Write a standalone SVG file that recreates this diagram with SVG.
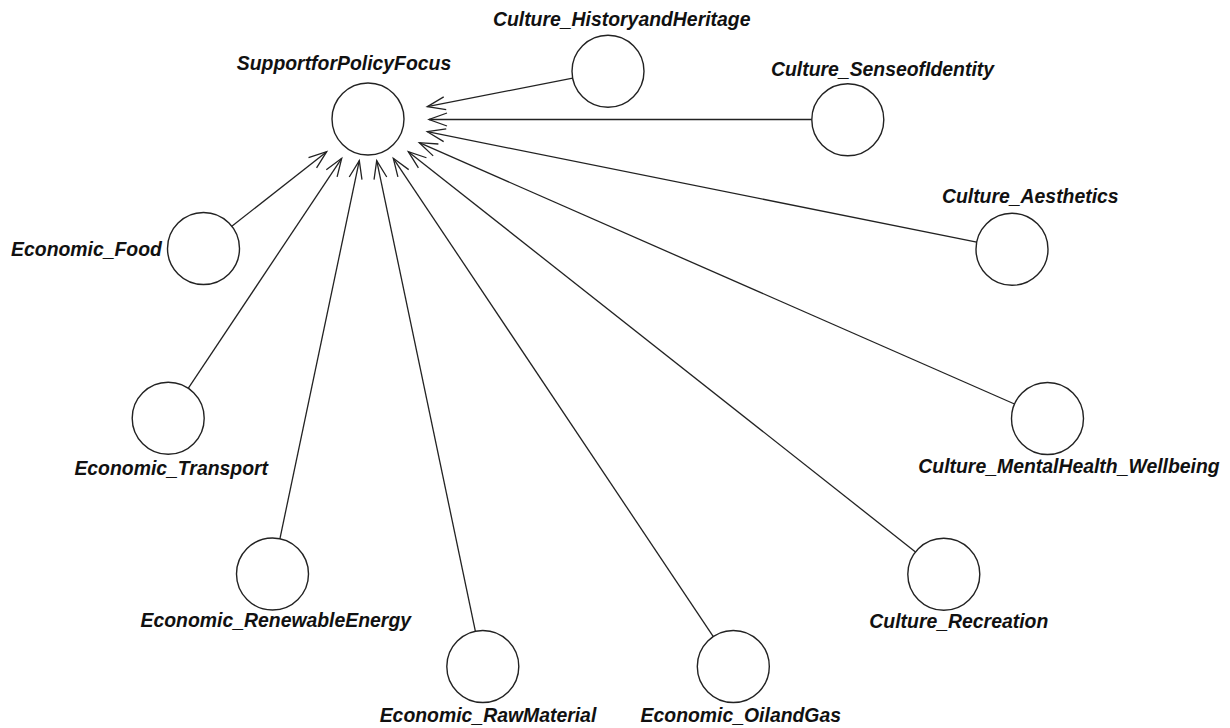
<svg xmlns="http://www.w3.org/2000/svg" width="1230" height="728" viewBox="0 0 1230 728">
<style>
.node circle{fill:#fff;stroke:#222;stroke-width:1.4}
.node text{font-family:"Liberation Sans",Arial,sans-serif;font-weight:bold;font-style:italic;font-size:19.4px;fill:#111;text-anchor:middle}
.edge{stroke:#222;stroke-width:1.3;fill:none;marker-end:url(#arr)}
</style>
<defs>
<marker id="arr" markerUnits="userSpaceOnUse" markerWidth="24" markerHeight="20" refX="0" refY="0" viewBox="-20 -10 24 20" orient="auto" overflow="visible">
<path d="M-18,-6.5 L0,0 L-18,6.5" fill="none" stroke="#222" stroke-width="1.3"/>
</marker>
</defs>
<rect width="1230" height="728" fill="#fff"/>
<g id="connectors">
<line class="edge" x1="572.7" y1="78.1" x2="427.3" y2="106.7"/>
<line class="edge" x1="811.8" y1="119.5" x2="429" y2="119.5"/>
<line class="edge" x1="976.7" y1="242.2" x2="427.3" y2="131.7"/>
<line class="edge" x1="1014.5" y1="404" x2="419.3" y2="142.7"/>
<line class="edge" x1="915.5" y1="551.9" x2="408.3" y2="151.7"/>
<line class="edge" x1="713.3" y1="636.6" x2="393.3" y2="158.3"/>
<line class="edge" x1="475.4" y1="631.3" x2="376.7" y2="160.7"/>
<line class="edge" x1="279.9" y1="538.8" x2="359.3" y2="160.7"/>
<line class="edge" x1="188.2" y1="388.3" x2="341.7" y2="158.3"/>
<line class="edge" x1="231.8" y1="226.3" x2="326.7" y2="151.7"/>
</g>
<g id="SupportforPolicyFocus" class="node"><circle cx="368" cy="119" r="36"/><text x="344" y="70">SupportforPolicyFocus</text></g>
<g id="Culture_HistoryandHeritage" class="node"><circle cx="608" cy="71.2" r="36"/><text x="621.7" y="26">Culture_HistoryandHeritage</text></g>
<g id="Culture_SenseofIdentity" class="node"><circle cx="847.8" cy="119.8" r="36"/><text x="882.5" y="76">Culture_SenseofIdentity</text></g>
<g id="Culture_Aesthetics" class="node"><circle cx="1012" cy="249.3" r="36"/><text x="1030.3" y="202.7">Culture_Aesthetics</text></g>
<g id="Culture_MentalHealth_Wellbeing" class="node"><circle cx="1047.5" cy="418.5" r="36"/><text x="1069" y="472.7">Culture_MentalHealth_Wellbeing</text></g>
<g id="Culture_Recreation" class="node"><circle cx="943.8" cy="574.2" r="36"/><text x="958.8" y="628.3">Culture_Recreation</text></g>
<g id="Economic_OilandGas" class="node"><circle cx="733.3" cy="666.5" r="36"/><text x="740.8" y="721.5">Economic_OilandGas</text></g>
<g id="Economic_RawMaterial" class="node"><circle cx="482.8" cy="666.5" r="36"/><text x="488" y="721.5">Economic_RawMaterial</text></g>
<g id="Economic_RenewableEnergy" class="node"><circle cx="272.5" cy="574" r="36"/><text x="275.8" y="627.3">Economic_RenewableEnergy</text></g>
<g id="Economic_Transport" class="node"><circle cx="168.2" cy="418.2" r="36"/><text x="171.2" y="475">Economic_Transport</text></g>
<g id="Economic_Food" class="node"><circle cx="203.5" cy="248.5" r="36"/><text x="86.5" y="256">Economic_Food</text></g>
</svg>
